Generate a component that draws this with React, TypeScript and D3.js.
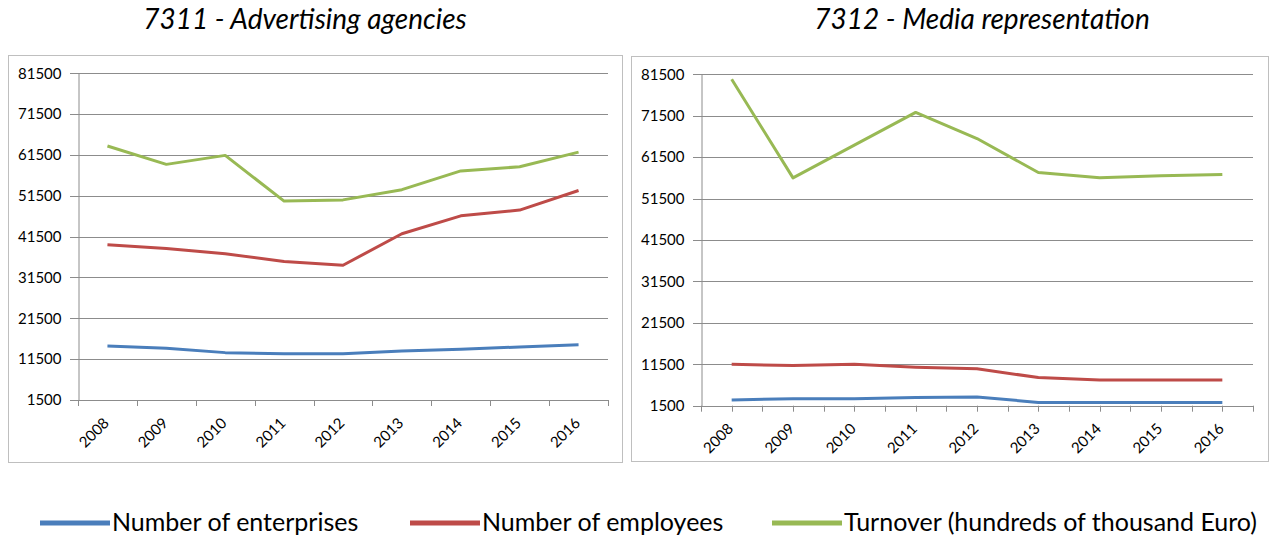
import { useEffect, useRef } from 'react';
import * as d3 from 'd3';

const years = ['2008', '2009', '2010', '2011', '2012', '2013', '2014', '2015', '2016'];
const yTicks = [1500, 11500, 21500, 31500, 41500, 51500, 61500, 71500, 81500];

const advEnterprises = [14700, 14200, 13100, 12800, 12800, 13500, 13900, 14500, 15000];
const advEmployees = [39500, 38600, 37300, 35400, 34500, 42200, 46600, 48000, 52800];
const advTurnover = [63700, 59200, 61400, 50200, 50500, 53000, 57600, 58600, 62200];

const mediaEnterprises = [2900, 3200, 3200, 3500, 3600, 2300, 2300, 2300, 2300];
const mediaEmployees = [11500, 11200, 11500, 10800, 10400, 8300, 7700, 7700, 7700];
const mediaTurnover = [80300, 56500, 64400, 72300, 66000, 57800, 56500, 57000, 57300];

const seriesNames = ['Number of enterprises', 'Number of employees', 'Turnover (hundreds of thousand Euro)'];
const seriesColors = ['#4a7ebb', '#be4b48', '#98b954'];

const FONT = 'Lato, "Open Sans", sans-serif';

interface PanelDef {
  title: string;
  titleX: number;
  values: number[][];
  box: { x: number; y: number; w: number; h: number };
  plot: { left: number; right: number; top: number; bottom: number };
  midTicks: boolean;
}

const panels: PanelDef[] = [
  {
    title: '7311 - Advertising agencies',
    titleX: 305,
    values: [advEnterprises, advEmployees, advTurnover],
    box: { x: 8.5, y: 55.5, w: 614, h: 407 },
    plot: { left: 78, right: 608, top: 73.3, bottom: 400 },
    midTicks: false,
  },
  {
    title: '7312 - Media representation',
    titleX: 982,
    values: [mediaEnterprises, mediaEmployees, mediaTurnover],
    box: { x: 631.5, y: 56.5, w: 637, h: 405 },
    plot: { left: 701, right: 1253, top: 74.3, bottom: 405.7 },
    midTicks: true,
  },
];

export default function App() {
  const svgRef = useRef<SVGSVGElement>(null);

  useEffect(() => {
    if (!svgRef.current) return;
    const svg = d3.select(svgRef.current);
    svg.selectAll('*').remove();

    panels.forEach((p) => {
      const g = svg.append('g');

      g.append('rect')
        .attr('x', p.box.x)
        .attr('y', p.box.y)
        .attr('width', p.box.w)
        .attr('height', p.box.h)
        .attr('fill', '#fff')
        .attr('stroke', '#bfbfbf');

      g.append('text')
        .attr('x', p.titleX)
        .attr('y', 29)
        .attr('text-anchor', 'middle')
        .attr('font-family', FONT)
        .attr('font-style', 'italic')
        .attr('font-size', 28)
        .attr('fill', '#000')
        .text(p.title);

      const x = d3.scaleBand<string>().domain(years).range([p.plot.left, p.plot.right]).padding(0);
      const y = d3.scaleLinear().domain([1500, 81500]).range([p.plot.bottom, p.plot.top]);
      const cx = (yr: string) => (x(yr) ?? 0) + x.bandwidth() / 2;

      // gridlines
      g.append('g')
        .selectAll('line')
        .data(yTicks)
        .join('line')
        .attr('x1', p.plot.left - 8)
        .attr('x2', p.plot.right)
        .attr('y1', (d) => Math.round(y(d)) + 0.5)
        .attr('y2', (d) => Math.round(y(d)) + 0.5)
        .attr('stroke', '#8c8c8c')
        .attr('stroke-width', 1);

      // y axis
      const yAxis = d3
        .axisLeft(y)
        .tickValues(yTicks)
        .tickSize(0)
        .tickPadding(17)
        .tickFormat(d3.format('d'));
      const ya = g.append('g').attr('transform', `translate(${Math.round(p.plot.left) + 0.5},0)`).call(yAxis);
      ya.select('.domain').attr('stroke', '#8c8c8c');
      ya.selectAll('text').attr('font-family', FONT).attr('font-size', 15).attr('fill', '#000');

      // x axis ticks
      const edges = years.map((yr) => x(yr) ?? 0).concat([p.plot.right]);
      const tickPos = p.midTicks ? edges.concat(years.map(cx)) : edges;
      g.append('g')
        .selectAll('line')
        .data(tickPos)
        .join('line')
        .attr('x1', (d) => Math.round(d) + 0.5)
        .attr('x2', (d) => Math.round(d) + 0.5)
        .attr('y1', p.plot.bottom)
        .attr('y2', p.plot.bottom + 6)
        .attr('stroke', '#8c8c8c');

      g.append('g')
        .selectAll('text')
        .data(years)
        .join('text')
        .attr('transform', (d) => `translate(${cx(d) + 2.5},${p.plot.bottom + 24}) rotate(-45)`)
        .attr('text-anchor', 'end')
        .attr('font-family', FONT)
        .attr('font-size', 15)
        .attr('fill', '#000')
        .text((d) => d);

      // series
      const line = d3
        .line<number>()
        .x((_, i) => cx(years[i]))
        .y((d) => y(d));

      p.values.forEach((vals, si) => {
        g.append('path')
          .datum(vals)
          .attr('d', line)
          .attr('fill', 'none')
          .attr('stroke', seriesColors[si])
          .attr('stroke-width', 3)
          .attr('stroke-linejoin', 'round');
      });
    });

    // legend
    const legendX = [40, 410, 772];
    const leg = svg.append('g');
    seriesNames.forEach((name, i) => {
      leg.append('line')
        .attr('x1', legendX[i])
        .attr('x2', legendX[i] + 70)
        .attr('y1', 523)
        .attr('y2', 523)
        .attr('stroke', seriesColors[i])
        .attr('stroke-width', 5);
      leg.append('text')
        .attr('x', legendX[i] + 72)
        .attr('y', 531)
        .attr('font-family', FONT)
        .attr('font-size', 25)
        .attr('fill', '#000')
        .text(name);
    });
  }, []);

  return (
    <svg
      ref={svgRef}
      width={1271}
      height={538}
      style={{ position: 'absolute', left: 0, top: 0, background: '#fff' }}
    />
  );
}
